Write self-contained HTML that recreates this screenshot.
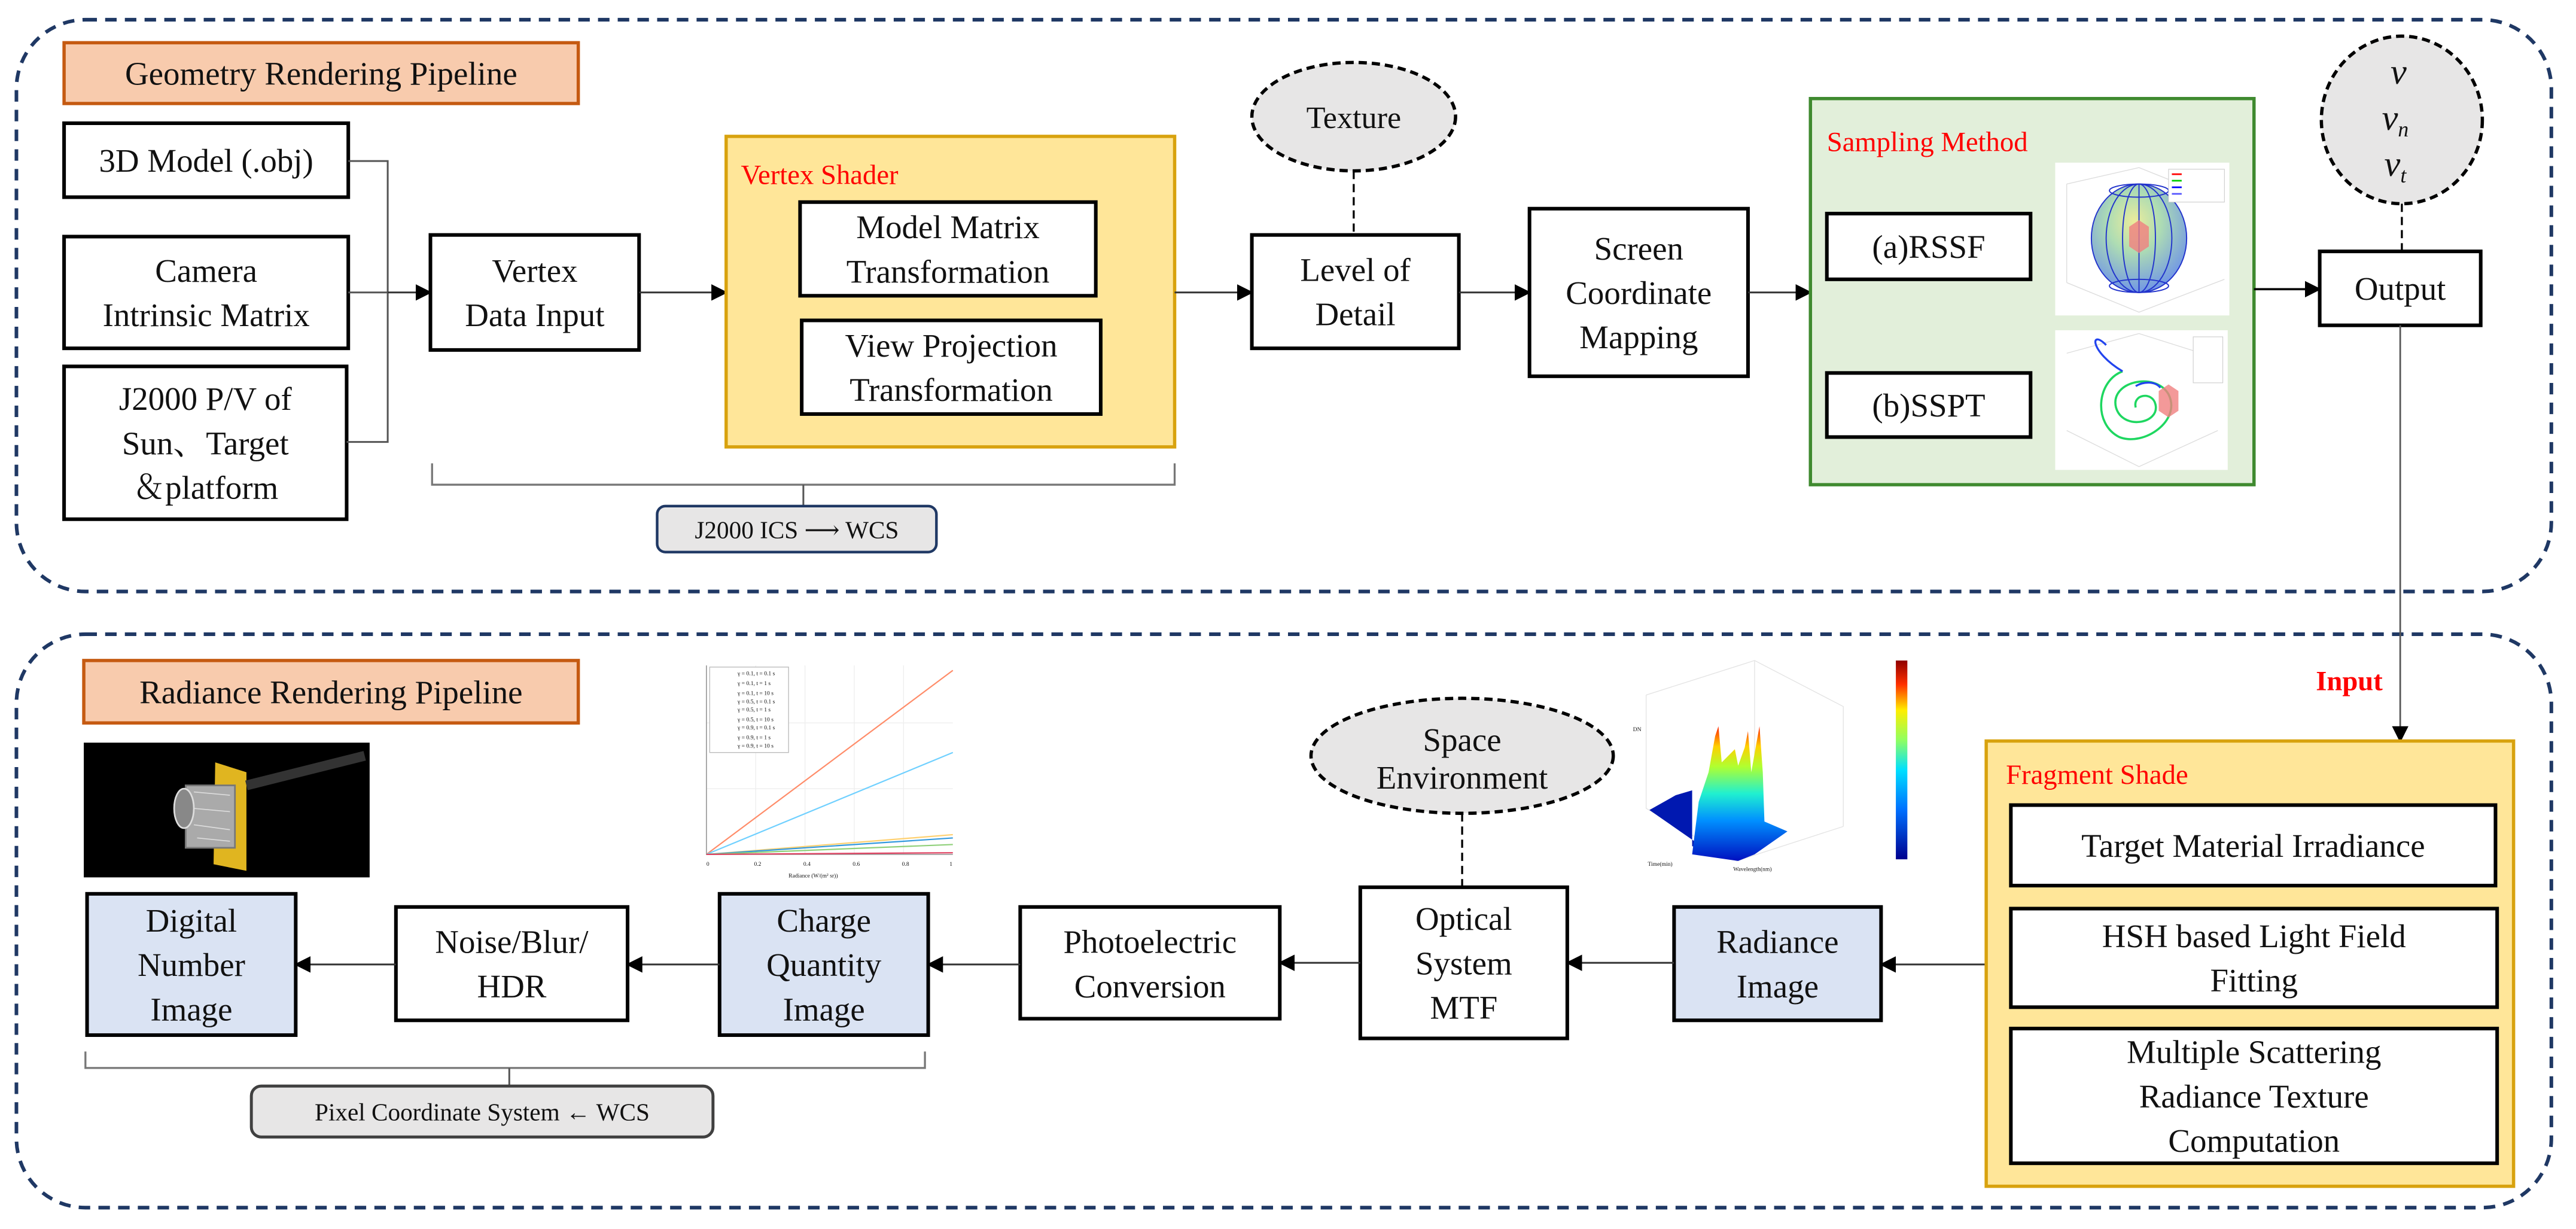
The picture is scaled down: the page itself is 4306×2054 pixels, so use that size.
<!DOCTYPE html>
<html><head><meta charset="utf-8"><style>
html,body{margin:0;padding:0;background:#fff;}
svg{display:block;}
svg, text{font-family:"Liberation Serif","DejaVu Serif","Noto Serif CJK SC",serif;}
text{fill:#111;}
</style></head><body>
<svg width="4306" height="2054" viewBox="0 0 1568 748" preserveAspectRatio="none" xmlns="http://www.w3.org/2000/svg" font-family="'Liberation Serif','DejaVu Serif','Noto Serif CJK SC',serif">
<defs>
<marker id="ah" markerWidth="10" markerHeight="10" refX="9" refY="5" orient="auto" markerUnits="userSpaceOnUse">
<path d="M0,0 L10,5 L0,10 z" fill="#000"/></marker>
<radialGradient id="sph" cx="0.45" cy="0.35" r="0.7"><stop offset="0" stop-color="#e9e98a"/><stop offset="0.4" stop-color="#9fd6a6"/><stop offset="1" stop-color="#4f7ae8"/></radialGradient>
<linearGradient id="cbar" x1="0" y1="1" x2="0" y2="0"><stop offset="0" stop-color="#00008f"/><stop offset="0.25" stop-color="#0070ff"/><stop offset="0.45" stop-color="#00e0ff"/><stop offset="0.6" stop-color="#90ff60"/><stop offset="0.75" stop-color="#ffee00"/><stop offset="0.88" stop-color="#ff3000"/><stop offset="1" stop-color="#900000"/></linearGradient>
<linearGradient id="surf" x1="0" y1="1" x2="0" y2="0"><stop offset="0" stop-color="#0010c0"/><stop offset="0.3" stop-color="#0090ff"/><stop offset="0.5" stop-color="#20f0d0"/><stop offset="0.7" stop-color="#b0ff30"/><stop offset="0.85" stop-color="#ffd000"/><stop offset="1" stop-color="#ff2000"/></linearGradient>
</defs>

<rect x="10" y="12" width="1543" height="348" rx="42" fill="none" stroke="#1f3864" stroke-width="2.2" stroke-dasharray="7,5"/>
<rect x="10" y="386" width="1543" height="349" rx="42" fill="none" stroke="#1f3864" stroke-width="2.2" stroke-dasharray="7,5"/>

<rect x="39" y="26" width="313" height="37" fill="#f8cbad" stroke="#c55a11" stroke-width="2"/>
<text x="195.5" y="51.5" font-size="20" text-anchor="middle">Geometry Rendering Pipeline</text>

<g fill="#fff" stroke="#000" stroke-width="2.2">
<rect x="39" y="75" width="173" height="45"/>
<rect x="39" y="144" width="173" height="68"/>
<rect x="39" y="223" width="172" height="93"/>
<rect x="262" y="143" width="127" height="70"/>
</g>
<g font-size="20" text-anchor="middle">
<text x="125.5" y="104.5">3D Model (.obj)</text>
<text x="125.5" y="171.5">Camera</text><text x="125.5" y="198.5">Intrinsic Matrix</text>
<text x="125" y="249.5">J2000 P/V of</text><text x="125" y="276.5">Sun、Target</text><text x="125" y="303.5">＆platform</text>
<text x="325.5" y="171.5">Vertex</text><text x="325.5" y="198.5">Data Input</text>
</g>
<g fill="none" stroke="#555" stroke-width="1.1">
<polyline points="212,98 236,98 236,269 211,269"/>
<line x1="212" y1="178" x2="236" y2="178"/>
</g>
<line x1="236" y1="178" x2="262" y2="178" stroke="#333" stroke-width="1.1" marker-end="url(#ah)"/>
<line x1="389" y1="178" x2="442" y2="178" stroke="#333" stroke-width="1.1" marker-end="url(#ah)"/>

<rect x="442" y="83" width="273" height="189" fill="#ffe699" stroke="#d8a20e" stroke-width="2"/>
<text x="451" y="112" font-size="17" style="fill:#ff0000">Vertex Shader</text>
<g fill="#fff" stroke="#000" stroke-width="2.2">
<rect x="487" y="123" width="180" height="57"/>
<rect x="488" y="195" width="182" height="57"/>
</g>
<g font-size="20" text-anchor="middle">
<text x="577" y="145">Model Matrix</text><text x="577" y="172">Transformation</text>
<text x="579" y="217">View Projection</text><text x="579" y="244">Transformation</text>
</g>
<line x1="715" y1="178" x2="762" y2="178" stroke="#333" stroke-width="1.1" marker-end="url(#ah)"/>

<polyline points="263,282 263,295 715,295 715,282" fill="none" stroke="#777" stroke-width="1.2"/>
<line x1="489" y1="295" x2="489" y2="308" stroke="#555" stroke-width="1.1"/>
<rect x="400" y="308" width="170" height="28" rx="5" fill="#e7e6e6" stroke="#1f3864" stroke-width="1.6"/>
<text x="485" y="327.5" font-size="15" text-anchor="middle">J2000 ICS ⟶ WCS</text>

<ellipse cx="824" cy="71" rx="62" ry="33" fill="#e7e6e6" stroke="#000" stroke-width="2" stroke-dasharray="5,3"/>
<text x="824" y="78" font-size="19" text-anchor="middle">Texture</text>
<line x1="824" y1="104" x2="824" y2="143" stroke="#000" stroke-width="1.2" stroke-dasharray="5,3"/>
<rect x="762" y="143" width="126" height="69" fill="#fff" stroke="#000" stroke-width="2.2"/>
<g font-size="20" text-anchor="middle"><text x="825" y="171">Level of</text><text x="825" y="198">Detail</text></g>
<line x1="888" y1="178" x2="931" y2="178" stroke="#333" stroke-width="1.1" marker-end="url(#ah)"/>
<rect x="931" y="127" width="133" height="102" fill="#fff" stroke="#000" stroke-width="2.2"/>
<g font-size="20" text-anchor="middle"><text x="997.5" y="158">Screen</text><text x="997.5" y="185">Coordinate</text><text x="997.5" y="212">Mapping</text></g>
<line x1="1064" y1="178" x2="1102" y2="178" stroke="#333" stroke-width="1.1" marker-end="url(#ah)"/>

<rect x="1102" y="60" width="270" height="235" fill="#e2efda" stroke="#3f8a2f" stroke-width="2"/>
<text x="1112" y="92" font-size="17" style="fill:#ff0000">Sampling Method</text>
<g fill="#fff" stroke="#000" stroke-width="2.2">
<rect x="1112" y="130" width="124" height="40"/>
<rect x="1112" y="227" width="124" height="39"/>
</g>
<g font-size="20" text-anchor="middle"><text x="1174" y="157">(a)RSSF</text><text x="1174" y="253.5">(b)SSPT</text></g>
<rect x="1251" y="99" width="106" height="93" fill="#fff"/>
<g stroke="#ddd" stroke-width="0.5" fill="none"><polyline points="1258,112 1302,102 1322,110"/><line x1="1258" y1="112" x2="1258" y2="172"/><polyline points="1258,172 1302,190 1354,170"/></g>
<ellipse cx="1302" cy="145" rx="29" ry="33" fill="url(#sph)" opacity="0.85"/>
<g fill="none" stroke="#2233cc" stroke-width="0.7">
<ellipse cx="1302" cy="145" rx="29" ry="33"/><ellipse cx="1302" cy="145" rx="20" ry="33"/><ellipse cx="1302" cy="145" rx="10" ry="33"/><line x1="1302" y1="112" x2="1302" y2="178"/>
<ellipse cx="1302" cy="116" rx="18" ry="4"/><ellipse cx="1302" cy="174" rx="18" ry="4"/></g>
<polygon points="1296,138 1302,134 1308,138 1308,150 1302,154 1296,150" fill="#f08080" opacity="0.8"/>
<rect x="1320" y="103" width="34" height="20" fill="#fff" stroke="#ccc" stroke-width="0.4"/>
<g stroke-width="1"><line x1="1322" y1="106" x2="1328" y2="106" stroke="red"/><line x1="1322" y1="110" x2="1328" y2="110" stroke="#0c0"/><line x1="1322" y1="114" x2="1328" y2="114" stroke="blue"/><line x1="1322" y1="118" x2="1328" y2="118" stroke="#55f"/></g>
<rect x="1251" y="201" width="105" height="85" fill="#fff"/>
<g stroke="#ddd" stroke-width="0.5" fill="none"><polyline points="1258,215 1302,203 1340,215"/><polyline points="1258,262 1302,284 1350,262"/></g>
<path d="M1300,248 C1298,240 1310,238 1312,246 C1315,258 1292,262 1288,248 C1284,232 1312,226 1320,240 C1328,256 1305,272 1290,266 C1274,258 1276,232 1292,226" fill="none" stroke="#1ed760" stroke-width="1.3"/>
<path d="M1292,226 C1272,214 1272,200 1282,210" fill="none" stroke="#2244ee" stroke-width="1.2"/>
<path d="M1300,235 C1305,232 1312,232 1315,236" fill="none" stroke="#2244ee" stroke-width="1.2"/>
<polygon points="1314,238 1320,234 1326,238 1326,250 1320,254 1314,250" fill="#f08080" opacity="0.8"/>
<rect x="1335" y="205" width="18" height="28" fill="#fff" stroke="#ccc" stroke-width="0.4"/>

<line x1="1372" y1="176" x2="1412" y2="176" stroke="#000" stroke-width="1.3" marker-end="url(#ah)"/>
<rect x="1412" y="153" width="98" height="45" fill="#fff" stroke="#000" stroke-width="2.2"/>
<text x="1461" y="182.5" font-size="20" text-anchor="middle">Output</text>
<ellipse cx="1462" cy="73" rx="49" ry="51" fill="#e7e6e6" stroke="#000" stroke-width="2" stroke-dasharray="5,3"/>
<g font-size="22" font-style="italic" text-anchor="middle">
<text x="1460" y="51">v</text>
<text x="1458" y="79">v<tspan font-size="13" dy="4">n</tspan></text>
<text x="1458" y="107">v<tspan font-size="13" dy="4">t</tspan></text>
</g>
<line x1="1462" y1="124" x2="1462" y2="153" stroke="#000" stroke-width="1.2" stroke-dasharray="5,3"/>
<line x1="1461" y1="198" x2="1461" y2="451" stroke="#555" stroke-width="1" marker-end="url(#ah)"/>
<text x="1430" y="420" font-size="17" font-weight="bold" text-anchor="middle" style="fill:#ff0000">Input</text>

<rect x="51" y="402" width="301" height="38" fill="#f8cbad" stroke="#c55a11" stroke-width="2"/>
<text x="201.5" y="428" font-size="20" text-anchor="middle">Radiance Rendering Pipeline</text>
<rect x="51" y="452" width="174" height="82" fill="#000"/>
<polygon points="131,464 150,470 150,530 130,526" fill="#e0b520"/>
<line x1="150" y1="478" x2="222" y2="460" stroke="#333" stroke-width="6"/>
<rect x="113" y="478" width="30" height="38" fill="#aaa" stroke="#777" stroke-width="1"/>
<ellipse cx="112" cy="492" rx="6" ry="12" fill="#888" stroke="#ddd" stroke-width="1"/>
<g stroke="#ddd" stroke-width="0.6"><line x1="118" y1="482" x2="140" y2="484"/><line x1="118" y1="492" x2="140" y2="494"/><line x1="118" y1="502" x2="140" y2="505"/><line x1="120" y1="510" x2="140" y2="512"/></g>
<rect x="415" y="398" width="165" height="140" fill="#fff"/>
<g stroke="#eee" stroke-width="0.5"><line x1="430" y1="405" x2="430" y2="520"/><line x1="460" y1="405" x2="460" y2="520"/><line x1="490" y1="405" x2="490" y2="520"/><line x1="520" y1="405" x2="520" y2="520"/><line x1="550" y1="405" x2="550" y2="520"/><line x1="430" y1="440" x2="580" y2="440"/><line x1="430" y1="480" x2="580" y2="480"/></g>
<polyline points="430,405 430,520 580,520" fill="none" stroke="#999" stroke-width="0.6"/>
<g stroke-width="0.8"><line x1="430" y1="520" x2="580" y2="408" stroke="#ff8c69"/><line x1="430" y1="520" x2="580" y2="458" stroke="#6fd0ff"/><line x1="430" y1="520" x2="580" y2="508" stroke="#ffd070"/><line x1="430" y1="520" x2="580" y2="510" stroke="#3399dd"/><line x1="430" y1="520" x2="580" y2="514" stroke="#8fd07a"/><line x1="430" y1="520" x2="580" y2="519" stroke="#e04060"/></g>
<rect x="432" y="406" width="48" height="52" fill="#fff" stroke="#bbb" stroke-width="0.5"/>
<g font-size="3.5" style="fill:#555"><text x="449" y="411">γ = 0.1, t = 0.1 s</text><text x="449" y="417">γ = 0.1, t = 1 s</text><text x="449" y="423">γ = 0.1, t = 10 s</text><text x="449" y="428">γ = 0.5, t = 0.1 s</text><text x="449" y="433">γ = 0.5, t = 1 s</text><text x="449" y="439">γ = 0.5, t = 10 s</text><text x="449" y="444">γ = 0.9, t = 0.1 s</text><text x="449" y="450">γ = 0.9, t = 1 s</text><text x="449" y="455">γ = 0.9, t = 10 s</text>
<text x="480" y="534">Radiance (W/(m² sr))</text><text x="430" y="527">0</text><text x="459" y="527">0.2</text><text x="489" y="527">0.4</text><text x="519" y="527">0.6</text><text x="549" y="527">0.8</text><text x="578" y="527">1</text></g>
<rect x="994" y="395" width="180" height="137" fill="#fff"/>
<g stroke="#e4e4e4" stroke-width="0.5" fill="none"><polyline points="1002,423 1002,492 1057,524 1122,503"/><polyline points="1002,423 1068,402 1122,430 1122,503"/><line x1="1068" y1="402" x2="1068" y2="470"/></g>
<polygon points="1004,493 1020,484 1030,481 1030,515 1058,524 1040,518" fill="#0018b0"/>
<path d="M1030,520 L1034,488 L1040,470 L1044,448 L1046,442 L1048,464 L1052,460 L1056,456 L1058,466 L1062,455 L1064,445 L1066,470 L1069,453 L1071,442 L1073,470 L1074,500 L1088,506 L1068,520 L1058,524 z" fill="url(#surf)"/>
<rect x="1154" y="402" width="7" height="121" fill="url(#cbar)"/>
<g font-size="3.5" style="fill:#555"><text x="1003" y="527">Time(min)</text><text x="1055" y="530">Wavelength(nm)</text><text x="994" y="445">DN</text></g>

<g stroke="#000" stroke-width="2.2">
<rect x="53" y="544" width="127" height="86" fill="#dae3f3"/>
<rect x="241" y="552" width="141" height="69" fill="#fff"/>
<rect x="438" y="544" width="127" height="86" fill="#dae3f3"/>
<rect x="621" y="552" width="158" height="68" fill="#fff"/>
<rect x="828" y="540" width="126" height="92" fill="#fff"/>
<rect x="1019" y="552" width="126" height="69" fill="#dae3f3"/>
</g>
<g font-size="20" text-anchor="middle">
<text x="116.5" y="567">Digital</text><text x="116.5" y="594">Number</text><text x="116.5" y="621">Image</text>
<text x="311.5" y="580">Noise/Blur/</text><text x="311.5" y="607">HDR</text>
<text x="501.5" y="567">Charge</text><text x="501.5" y="594">Quantity</text><text x="501.5" y="621">Image</text>
<text x="700" y="580">Photoelectric</text><text x="700" y="607">Conversion</text>
<text x="891" y="566">Optical</text><text x="891" y="593">System</text><text x="891" y="620">MTF</text>
<text x="1082" y="580">Radiance</text><text x="1082" y="607">Image</text>
</g>
<g stroke="#333" stroke-width="1.1">
<line x1="241" y1="587" x2="180" y2="587" marker-end="url(#ah)"/>
<line x1="438" y1="587" x2="382" y2="587" marker-end="url(#ah)"/>
<line x1="621" y1="587" x2="565" y2="587" marker-end="url(#ah)"/>
<line x1="828" y1="586" x2="779" y2="586" marker-end="url(#ah)"/>
<line x1="1019" y1="586" x2="954" y2="586" marker-end="url(#ah)"/>
<line x1="1209" y1="587" x2="1145" y2="587" marker-end="url(#ah)"/>
</g>
<ellipse cx="890" cy="460" rx="92" ry="35" fill="#e7e6e6" stroke="#000" stroke-width="2" stroke-dasharray="5,3"/>
<g font-size="20" text-anchor="middle"><text x="890" y="457">Space</text><text x="890" y="480">Environment</text></g>
<line x1="890" y1="495" x2="890" y2="540" stroke="#000" stroke-width="1.2" stroke-dasharray="5,3"/>
<polyline points="52,640 52,650 563,650 563,640" fill="none" stroke="#777" stroke-width="1.2"/>
<line x1="310" y1="650" x2="310" y2="661" stroke="#555" stroke-width="1.1"/>
<rect x="153" y="661" width="281" height="31" rx="6" fill="#e7e6e6" stroke="#404040" stroke-width="1.8"/>
<text x="293.5" y="682" font-size="15" text-anchor="middle">Pixel Coordinate System ← WCS</text>

<rect x="1209" y="451" width="321" height="271" fill="#ffe699" stroke="#d8a20e" stroke-width="2"/>
<text x="1221" y="477" font-size="17" style="fill:#ff0000">Fragment Shade</text>
<g fill="#fff" stroke="#000" stroke-width="2.2">
<rect x="1224" y="490" width="295" height="49"/>
<rect x="1224" y="553" width="296" height="60"/>
<rect x="1224" y="626" width="296" height="82"/>
</g>
<g font-size="20" text-anchor="middle">
<text x="1371.5" y="521.5">Target Material Irradiance</text>
<text x="1372" y="576.5">HSH based Light Field</text><text x="1372" y="603.5">Fitting</text>
<text x="1372" y="647">Multiple Scattering</text><text x="1372" y="674">Radiance Texture</text><text x="1372" y="701">Computation</text>
</g>
</svg>
</body></html>
